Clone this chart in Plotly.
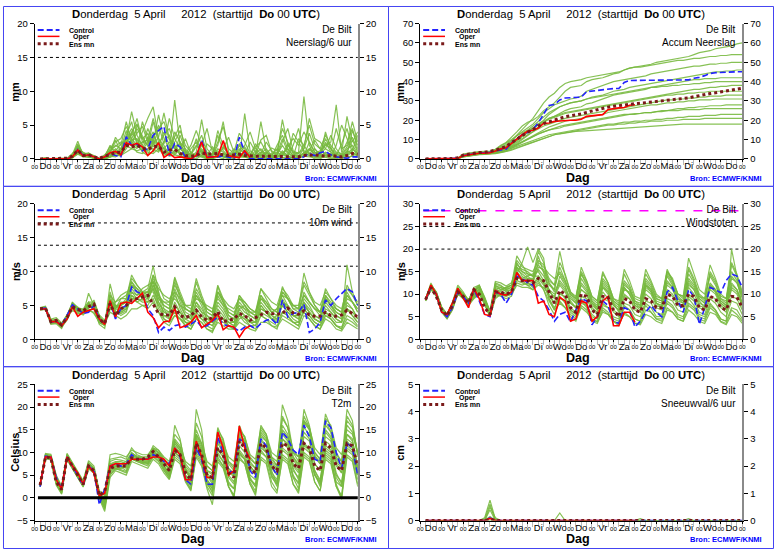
import plotly.graph_objects as go

# ---------------- time axis (hours after start, 6-hourly) ----------------
hours = list(range(6, 361, 6))
day_hours = list(range(0, 361, 24))
day_mid = list(range(12, 360, 24))
day_names = ["Do", "Vr", "Za", "Zo", "Ma", "Di", "Wo", "Do", "Vr", "Za", "Zo", "Ma", "Di", "Wo", "Do"]
day_ticktext = ["00"] * len(day_hours)

# ---------------- Neerslag / 6 uur (mm) ----------------
precip_control = [0,0,0,0, 0,0,0.3,1.4, 0.5,0.6,0.3,0, 0.3,0.8,0.5,0.3, 3.3,2.0,2.2,1.2, 1.5,3.5,4.2,4.8,
                  0.5,2.3,1.8,0.2, 0,0.3,2.8,0.3, 0.3,0.3,0.5,0.2, 0,3.2,1.0,0, 0,0,0,0, 0,0,0,0,
                  0,0.3,0.8,0.5, 0.9,1.1,0.6,0.3, 0.2,0.1,0.3,0.3]
precip_oper = [0,0,0,0, 0,0,0.3,1.3, 0.4,0.6,0.3,0, 0.3,0.9,1.1,0.6, 2.4,2.0,2.3,1.8, 0.5,1.2,2.4,0.2,
               0.8,0.2,0.3,0.1, 0,0.5,2.5,0.2, 0.3,0.4,2.7,0.5, 0.3,0.2,1.2,0.2]
precip_mean = [0,0,0,0.1, 0,0.1,0.4,1.3, 0.5,0.6,0.3,0.1, 0.4,0.7,0.9,1.0, 2.0,1.8,2.0,1.6, 1.4,1.8,1.9,1.0,
               1.3,1.4,0.8,0.5, 0.4,0.5,0.9,0.7, 0.7,0.8,0.6,0.5, 0.6,0.7,0.5,0.4, 0.4,0.4,0.4,0.4,
               0.4,0.3,0.4,0.3, 0.3,0.5,0.6,0.6, 0.5,0.4,0.5,0.4, 0.3,0.5,0.8,0.7]
precip_m1 = [0,0,0,0, 0,0,0.5,2.2, 0.8,0.4,0.2,0, 0.2,1.5,2.8,1.0, 3.5,5.5,2.0,1.2, 2.5,4.0,1.5,0.5, 1.0,8.7,2.0,0.3,
             0,0.5,1.2,0.2, 0,0.8,0.3,0, 0.5,1.5,0.8,0.2, 0,0,0.5,0.2, 0.3,1.2,0.5,0, 0,0.5,2.5,1.0, 0.5,0.2,0,0.3, 0.5,1.5,2.0,0.8]
precip_m2 = [0,0.2,0,0, 0,0,0.2,1.5, 1.0,0.5,0,0, 0.5,0.8,3.2,2.0, 5.5,2.5,1.8,4.0, 6.0,7.7,3.0,2.0, 0.5,1.0,3.5,1.2,
             0.2,0,0.5,0, 0,0.3,0,0.8, 0.5,0,6.7,1.2, 0.5,0.2,0,0, 0,0,0,0.3, 0.2,1.0,0.5,0, 0,0.5,0.2,0, 0.3,0,0.5,0.2]
precip_m3 = [0,0,0,0, 0,0.1,0.8,1.8, 0.3,0.8,0.5,0.1, 0,0.5,1.2,2.2, 2.8,7.0,3.5,2.0, 1.2,2.0,4.5,5.5, 2.8,2.0,0.5,0,
             0.3,1.0,5.8,1.5, 0.5,2.0,5.5,1.0, 0.2,0.5,0.3,0, 0.5,5.5,1.2,0.3, 2.0,3.5,1.5,0.5, 1.0,9.2,2.0,0.5, 1.0,3.0,1.5,0.3, 0,0.5,1.0,0.5]
precip_m4 = [0,0,0,0, 0,0,0.3,1.2, 0.6,0.3,0.2,0, 0,0.3,0.6,0.4, 1.5,3.0,4.5,3.0, 2.0,1.5,1.0,2.5, 3.5,1.5,0.8,0.5,
             1.5,2.5,0.8,0.2, 0.5,1.2,0.4,0.2, 0.3,2.0,1.0,0.2, 0.8,1.5,0.5,0.2, 0.5,5.8,2.0,1.0, 0.5,0.3,1.5,0.8, 1.2,2.0,2.5,8.0, 1.0,6.3,2.5,4.0]
precip_m5 = [0,0,0,0, 0,0,0.4,0.9, 0.4,0.7,0.3,0, 0.2,0.6,1.0,1.5, 4.2,2.2,1.5,5.5, 3.0,1.0,2.5,0.8, 0.4,0.6,1.5,0.8,
             0.5,3.0,1.0,0.4, 0.8,0.5,1.8,0.6, 0.4,0.3,0.6,2.5, 1.0,0.3,0.2,0.5, 1.5,0.8,0.4,2.0, 4.5,1.0,0.5,0.3, 0.5,0.8,0.3,2.0, 5.0,3.0,1.0,0.5]
precip_m6 = [0,0,0,0.1, 0,0,0.6,2.6, 0.5,0.6,0.4,0, 0.3,2.0,0.8,0.5, 2.0,1.5,5.0,3.5, 1.8,5.5,2.5,1.5, 0.8,4.0,2.5,0.6,
             0.2,0.5,0.3,0, 0.2,0.5,0.8,0.3, 0,0.6,0.5,0.2, 0.2,0.8,1.5,0.5, 0.3,0.5,2.2,0.8, 0.2,0.5,0.8,0.3, 0.3,0.5,0.8,0.4, 0.2,0.6,1.2,3.5]
precip_m7 = [0,0,0,0, 0,0,0.1,0.8, 0.4,0.4,0.2,0, 0,0.2,0.5,0.5, 1.0,1.5,1.2,1.5, 1.0,0.8,1.5,1.0, 1.2,0.6,0.4,0.3,
             0.3,0.4,0.6,0.3, 0.2,0.3,0.4,0.2, 0.1,0.3,0.2,0.1, 0.1,0.2,0.4,0.2, 0.1,0.2,0.3,0.1, 0.2,0.4,0.3,0.2, 0.2,0.3,0.5,0.2, 0.2,0.3,0.4,0.3]
precip_m8 = [0,0,0,0, 0,0,0.2,1.0, 0.8,0.3,0.1,0, 0.4,1.2,2.0,1.5, 3.0,4.5,2.5,1.0, 0.5,2.5,6.5,3.0, 1.5,3.2,5.0,1.0,
             0.6,1.8,3.5,0.8, 0.3,4.2,2.0,0.5, 1.0,3.8,2.5,0.8, 0.5,2.8,3.5,1.0, 0.5,2.5,4.5,1.2, 0.8,2.0,5.0,2.2, 1.5,3.5,2.0,1.0, 0.8,2.5,4.5,1.5]
precip_m9 = [0,0,0,0, 0,0,0.3,1.6, 0.7,0.9,0.4,0, 0.2,0.4,0.3,0.8, 2.5,3.5,6.0,2.5, 2.2,3.5,2.0,4.0, 2.0,0.8,1.5,3.0,
             0.8,0.3,2.0,4.5, 1.0,0.4,0.6,0.5, 1.5,0.8,0.4,0.3, 1.2,0.5,0.3,0.8, 1.0,0.5,1.8,3.0, 2.0,4.0,2.5,1.0, 0.8,1.5,3.5,1.5, 0.5,1.0,2.8,1.0]
precip_m10 = [0,0,0,0, 0,0,0.2,1.3, 0.5,0.5,0.3,0, 0.1,0.3,0.8,1.2, 2.0,2.8,3.0,2.0, 4.5,2.5,1.2,1.5, 2.5,1.5,0.8,0.4,
              0.2,0.8,1.2,0.6, 0.4,1.5,1.0,0.4, 0.6,1.0,0.4,0.3, 0.3,0.6,0.8,0.4, 0.2,0.8,1.5,0.5, 0.4,1.5,3.8,1.5, 0.6,2.2,1.5,0.8, 0.3,0.8,1.5,0.6]
precip_m11 = [0,0,0,0, 0,0,0.4,1.9, 0.6,0.5,0.2,0, 0.5,1.8,1.0,0.6, 2.2,3.8,2.8,1.5, 3.2,1.8,2.2,3.5, 4.5,2.0,1.0,0.4,
              0.3,0.6,1.5,0.5, 0.6,3.5,1.2,0.4, 0.2,0.8,1.8,0.5, 0.4,1.0,0.6,0.3, 0.8,3.0,1.0,0.4, 0.5,0.8,1.2,2.8, 1.5,0.6,0.4,0.8, 0.6,1.8,3.2,1.2]
precip_m12 = [0,0.1,0,0, 0,0,0.3,1.1, 0.9,0.7,0.3,0, 0.3,1.0,2.5,3.0, 4.8,3.0,2.0,2.5, 2.8,6.0,3.0,1.5, 1.2,2.5,4.2,2.0,
              1.0,0.5,0.8,2.2, 1.5,0.5,0.3,0.2, 0.5,2.2,1.5,0.5, 1.8,2.5,1.0,0.4, 0.3,1.0,0.5,3.8, 2.5,1.2,0.8,0.4, 0.3,4.0,1.5,0.5, 0.4,0.8,4.2,2.0]
precip_m13 = [0,0,0,0, 0,0,0.5,2.0, 0.7,0.6,0.3,0.1, 0.1,0.8,1.5,0.8, 1.8,2.5,3.8,4.8, 2.5,3.0,5.0,2.2, 6.0,3.0,1.5,0.8,
              2.0,4.2,2.0,1.0, 0.5,2.5,4.8,1.5, 0.8,1.2,2.0,4.0, 1.5,0.8,2.5,1.2, 0.6,2.0,0.8,0.3, 3.0,2.0,0.8,1.5, 0.6,2.5,1.0,0.5, 2.2,4.5,1.5,0.8]
precip_m14 = [0,0,0,0, 0,0,0.2,0.7, 0.3,0.2,0.1,0, 0,0.4,0.9,1.2, 3.0,2.0,1.0,0.8, 1.5,2.8,1.8,1.0, 0.6,1.2,2.5,1.5,
              0.5,0.3,0.4,0.2, 0.2,0.6,0.8,0.3, 0.3,0.5,0.4,0.2, 0.2,0.5,1.0,0.6, 0.3,0.6,0.4,0.2, 0.2,0.8,1.5,0.6, 0.4,1.0,0.6,0.3, 0.3,1.2,0.8,0.4]
precip_m15 = [0,0,0,0, 0,0,0.3,1.5, 0.5,0.8,0.4,0, 0.6,1.2,1.8,2.5, 2.5,4.0,5.2,3.0, 3.8,2.2,3.2,6.8, 3.0,1.8,2.2,1.0,
              0.8,2.0,1.0,0.5, 1.8,0.8,1.5,3.2, 1.0,0.5,0.8,0.6, 2.2,1.2,0.8,1.6, 1.2,4.5,2.5,1.0, 0.8,1.5,6.0,3.0, 2.5,1.5,1.0,4.5, 1.5,2.0,5.5,2.5]
precip_members = [precip_m1, precip_m2, precip_m3, precip_m4, precip_m5, precip_m6, precip_m7, precip_m8,
                  precip_m9, precip_m10, precip_m11, precip_m12, precip_m13, precip_m14, precip_m15]
precip_levels = [15]

# ---------------- Accum neerslag (mm) ----------------
accum_control = [0,0,0,0, 0,0,0.3,1.7, 2.2,2.8,3.1,3.1, 3.4,4.2,4.7,5.0, 8.3,10.3,12.5,13.7, 15.2,18.7,22.9,27.7,
                 28.2,30.5,31.5,31.7, 31.7,32.0,34.8,35.1, 35.4,35.7,36.2,36.4, 36.4,39.6,40.6,40.6, 40.6,40.6,40.6,40.6,
                 40.6,40.6,40.6,40.6, 40.6,40.9,41.7,42.2, 43.1,44.2,44.6,44.8, 45.0,45.1,45.1,45.1]
accum_oper = [0,0,0,0, 0,0,0.3,1.6, 2.0,2.6,2.9,2.9, 3.2,4.1,5.2,5.8, 8.2,10.2,12.5,14.3, 14.8,16.0,18.4,18.6,
              19.4,19.6,19.9,20.0, 20.0,20.5,22.0,22.2, 22.5,22.9,25.6,26.1, 26.4,26.6,27.8,28.0]
accum_mean = [0,0,0,0.1, 0.1,0.2,0.6,1.9, 2.4,3.0,3.3,3.4, 3.8,4.5,5.4,6.4, 8.4,10.2,12.2,13.8, 15.2,17.0,18.3,19.3,
              20.0,21.0,21.8,22.3, 22.7,23.2,24.1,24.8, 25.5,26.2,26.8,27.2, 27.6,28.0,28.3,28.6, 28.8,29.1,29.4,29.7,
              30.0,30.3,30.6,30.9, 31.2,31.6,32.2,32.8, 33.3,33.8,34.2,34.6, 35.0,35.5,36.2,36.6]
accum_m1 = [0,0,0,0, 0,0,0.3,2.0, 2.5,3.0,3.3,3.4, 3.6,4.5,6.0,7.5, 9.5,12.5,15.5,18.0, 21,25,29,32, 34,37,39,40,
            40.5,41,42,42.5, 43,43.5,44,44.5, 45,46,47,47.5, 48,48.5,49,50, 50.5,51,51.5,52, 52.5,53,54,55, 55.5,56,57,57.5, 58,58.5,59.5,60]
accum_m2 = [0,0,0,0, 0,0,0.5,2.5, 3.0,3.5,3.8,3.9, 4.0,5.0,7.0,8.5, 11,14,17,19, 20,22,25,27, 29,32,35,37,
            37.5,38,40,41, 41.5,42,43,44, 44.5,46,47,47.5, 47.5,48,48.5,49, 49.5,50,50.5,51, 51,51.5,52,52, 52.5,53,53,53.5, 53.5,54,54,54]
accum_m3 = [0,0,0,0, 0,0,0.4,1.8, 2.2,2.8,3.0,3.1, 3.3,4.0,5.2,6.5, 9,12,14,16, 18,21,24,26, 28,29,30,31,
            31.5,32.5,35,36, 37,38,39,40, 40.5,41,41.5,42, 42.5,43,44,44.5, 45,45.5,46,46.5, 47,47.5,48,48, 48.5,49,49,49.5, 49.5,50,50,50]
accum_m4 = [0,0,0,0, 0,0,0.3,1.5, 2.0,2.6,2.9,3.0, 3.2,3.8,4.8,5.8, 7.5,9.5,12,14, 16,18,20,23, 25,27,28,29,
            29.5,30,31,32, 32.5,33,34,35, 35.5,36,37,37.5, 38,38.5,39,39.5, 40,40.5,41,41.5, 42,42.5,43,43.5, 44,44.5,45,45, 45.5,45.5,46,46]
accum_m5 = [0,0,0,0, 0,0,0.2,1.2, 1.8,2.4,2.7,2.8, 3.0,3.5,4.2,5.0, 6.5,8.0,10,12, 14,16.5,19,21, 22,23.5,25,26,
            26.5,27,28.5,29, 30,31,32,33, 33.5,34,34.5,35, 35.5,36,37,37.5, 38,38.5,39,39.5, 40,40.5,41,41, 41.5,41.5,41.5,42, 42,42,42,42]
accum_m6 = [0,0,0,0, 0,0,0.4,1.7, 2.3,2.9,3.2,3.3, 3.5,4.3,5.5,6.8, 8.5,10.5,12.5,14.5, 16,18,19.5,21, 22,23,24,24.5,
            25,25.5,26,26.5, 27,27.5,28,28.5, 29,29.5,30,30.5, 31,31.5,32,32.5, 33,33.5,34,34.5, 35,35.5,36,36, 36.5,37,37,37.5, 37.5,38,38,38]
accum_m7 = [0,0,0,0, 0,0,0.3,1.4, 2.0,2.5,2.8,2.9, 3.1,3.6,4.3,5.2, 6.8,8.5,10.5,12.5, 14,15.5,17,18, 19,20,21,21.5,
            22,22.5,23,23.5, 24,24.5,25,25.5, 26,26.5,27,27.5, 28,28.5,29,29.5, 30,30.5,30.5,31, 31,31.5,31.5,32, 32,32.5,32.5,32.5, 33,33,33,33]
accum_m8 = [0,0,0,0, 0,0,0.2,1.0, 1.5,2.0,2.3,2.4, 2.6,3.0,3.6,4.2, 5.5,7.0,8.5,10, 11.5,13,14,15, 15.5,16,17,17.5,
            18,18.5,19,19.5, 20,20.5,21,21.5, 22,22.5,23,23, 23.5,24,24,24.5, 25,25,25.5,26, 26,26.5,26.5,27, 27,27.5,27.5,27.5, 28,28,28,28]
accum_m9 = [0,0,0,0, 0,0,0.3,1.3, 1.8,2.3,2.6,2.7, 2.8,3.2,3.8,4.5, 5.5,6.5,7.5,8.5, 9.5,10.5,11.5,12.5, 13,13.5,14,14.5,
            15,15.5,16,16.5, 17,17.5,18,18, 18.5,19,19,19.5, 19.5,20,20,20.5, 20.5,21,21,21.5, 21.5,22,22,22, 22.5,22.5,22.5,23, 23,23,23,23]
accum_m10 = [0,0,0,0, 0,0,0.2,1.1, 1.6,2.1,2.4,2.5, 2.7,3.0,3.4,4.0, 4.8,5.8,6.8,7.8, 8.8,9.8,10.8,11.8, 12.5,13,13.5,14,
             14.2,14.4,14.6,14.8, 15,15.2,15.4,15.6, 15.8,16,16.2,16.4, 16.6,16.8,17,17.2, 17.4,17.6,17.8,17.8, 18,18,18,18, 18,18,18,18, 18,18,18,18]
accum_m11 = [0,0,0,0, 0,0,0.3,1.6, 2.1,2.7,3.0,3.1, 3.3,4.0,5.0,6.0, 7.5,9.5,11.5,13.5, 15.5,17.5,19,20.5, 21.5,22.5,23.5,24,
             24.5,25,25.5,26, 26.5,27,27.5,28, 28.5,29,29.5,30, 30.5,31,31.5,32, 32.5,33,33,33.5, 33.5,34,34,34.5, 34.5,35,35,35, 35,35,35,35]
accum_m12 = [0,0,0,0, 0,0,0.2,1.3, 1.9,2.5,2.8,2.9, 3.0,3.4,4.0,4.8, 6.0,7.5,9.0,10.5, 12,13.5,15,16.5, 17.5,18.5,19.5,20,
             20.5,21,21.5,22, 22.5,23,24,24.5, 25,25.5,26,26.5, 27,27.5,28,28, 28.5,29,29,29.5, 29.5,30,30,30.5, 30.5,30.5,31,31, 31,31,31,31]
accum_m13 = [0,0,0,0, 0,0,0.3,1.5, 2.0,2.5,2.8,2.9, 3.1,3.5,4.2,5.0, 6.2,7.6,9.0,10.2, 11.5,12.8,14,15, 16,16.8,17.5,18,
             18.5,19,19.5,20, 20.5,21,21.5,22, 22.5,23,23,23.5, 23.5,24,24,24.5, 24.5,25,25,25, 25.5,25.5,25.5,25.5, 26,26,26,26, 26,26,26,26]
accum_m14 = [0,0,0,0, 0,0,0.4,2.2, 2.7,3.2,3.5,3.6, 3.8,4.8,6.5,8.0, 10,12,13.5,15, 17,19.5,22,24, 25.5,27,28,29,
             29.5,30,31,31.5, 32,32.5,33,33.5, 34,34.5,35,35.5, 36,36.5,37,37, 37.5,37.5,38,38, 38.5,38.5,39,39, 39.5,39.5,40,40, 40,40,40,40]
accum_m15 = [0,0,0,0, 0,0,0.2,1.0, 1.4,1.9,2.2,2.3, 2.4,2.7,3.2,3.8, 4.5,5.5,6.5,7.5, 8.5,9.5,10.5,11.5, 12.5,13,13.5,14,
             14.5,15,15.5,16, 16.5,17,17.5,17.5, 18,18,18.5,18.5, 19,19,19.5,19.5, 19.5,20,20,20, 20.5,20.5,20.5,20.5, 21,21,21,21, 21,21,21,21]
accum_members = [accum_m1, accum_m2, accum_m3, accum_m4, accum_m5, accum_m6, accum_m7, accum_m8,
                 accum_m9, accum_m10, accum_m11, accum_m12, accum_m13, accum_m14, accum_m15]

# ---------------- 10m wind (m/s) ----------------
wind_control = [4.5,4.6,2.5,2.7, 2.0,3.5,5.1,4.5, 3.8,4.0,5.0,3.0, 2.2,5.5,3.0,4.5, 5.0,7.7,7.0,6.7, 4.5,3.5,1.0,1.8,
                1.3,2.0,2.2,1.8, 2.2,2.8,1.8,2.0, 2.6,3.3,2.2,2.0, 1.7,1.2,1.8,2.0, 1.6,2.3,2.8,3.0, 2.2,5.8,3.3,3.8,
                4.0,5.2,1.0,1.5, 2.5,5.8,5.0,6.0, 6.8,7.5,7.0,5.0]
wind_oper = [4.4,4.5,2.6,2.6, 2.0,3.0,4.8,3.4, 4.0,4.3,4.5,3.0, 2.2,5.7,3.3,5.3, 5.5,5.3,6.0,6.8, 4.0,3.2,1.7,2.6,
             2.7,4.6,1.7,2.0, 2.5,3.5,1.7,2.2, 2.8,3.8,1.4,2.0, 1.8,0.3,1.5,2.0]
wind_mean = [4.5,4.6,2.6,2.8, 2.1,3.2,4.8,4.4, 4.2,4.8,5.2,3.0, 2.3,5.3,3.5,4.5, 5.0,5.8,6.0,6.3, 6.5,5.2,3.8,3.6,
             3.6,4.8,3.5,3.2, 3.5,4.3,3.3,2.8, 3.2,4.1,2.6,2.8, 3.0,3.8,3.5,2.8, 3.2,3.5,4.0,3.8, 3.7,3.8,4.6,3.9,
             3.7,4.2,3.6,3.4, 3.4,4.0,3.5,3.4, 3.6,4.3,3.8,3.3]
wind_m1 = [4.6,4.8,2.8,2.5, 2.2,3.5,5.0,4.2, 4.0,4.8,4.5,3.0, 2.5,5.0,4.5,5.5, 5.5,8.0,7.0,6.5, 6.0,9.5,6.5,5.0, 4.5,8.5,6.0,4.0,
           3.5,6.5,5.0,3.0, 3.0,5.5,4.5,3.0, 2.5,5.0,4.0,3.5, 3.0,6.0,5.5,4.0, 4.5,6.5,5.0,4.0, 3.5,7.0,5.5,4.5, 3.5,5.5,4.5,3.5, 3.0,6.0,5.5,4.0]
wind_m2 = [4.4,4.5,2.4,2.8, 2.0,3.0,4.5,3.8, 3.8,6.8,5.0,2.5, 2.0,8.2,5.0,5.0, 6.0,9.5,8.0,7.0, 7.5,10.8,7.0,4.5, 4.0,7.5,5.5,3.5,
           3.0,5.5,4.0,2.5, 2.5,4.5,3.5,2.0, 1.8,4.0,3.5,2.5, 2.5,5.0,4.0,3.0, 3.5,5.5,4.5,3.5, 3.0,5.0,4.0,3.0, 2.5,4.5,4.0,3.0, 2.5,11.0,7.0,5.0]
wind_m3 = [4.5,4.6,2.2,2.3, 1.6,3.2,5.5,4.5, 4.2,5.5,4.5,2.2, 1.6,6.5,4.0,4.0, 4.5,7.0,6.0,5.5, 5.5,8.0,6.5,5.5, 5.0,9.2,7.0,5.0,
           5.0,9.0,6.5,4.5, 4.0,8.0,6.0,4.0, 3.5,6.5,5.0,4.0, 3.5,7.5,6.0,4.5, 4.0,7.8,6.0,5.0, 4.5,9.8,7.0,5.0, 4.0,7.5,6.0,4.5, 4.0,8.0,6.5,5.0]
wind_m4 = [4.3,4.4,3.0,3.2, 2.4,3.6,4.2,4.0, 3.6,4.5,3.8,2.6, 2.3,4.0,3.5,3.0, 3.5,4.5,4.5,5.0, 4.5,5.5,4.0,2.5, 2.0,3.5,3.0,2.0,
           1.5,3.0,2.5,1.5, 1.2,2.5,2.0,1.5, 1.5,2.5,2.0,1.5, 1.2,2.5,2.5,2.0, 1.8,3.0,2.5,2.0, 1.5,3.5,3.0,2.0, 1.5,3.0,2.5,1.5, 1.2,2.5,2.0,1.5]
wind_m5 = [4.7,4.9,2.6,2.9, 2.1,3.3,4.8,4.3, 4.4,5.0,5.2,3.2, 2.6,5.5,5.0,4.5, 5.0,7.5,6.5,7.0, 6.5,7.5,5.5,4.0, 3.5,5.0,4.0,3.0,
           3.5,7.0,5.5,3.5, 2.5,7.8,5.5,3.5, 3.0,5.5,4.5,3.0, 2.5,4.0,3.5,3.0, 2.8,5.5,5.0,3.5, 3.5,5.5,4.0,3.0, 2.5,6.5,5.0,4.0, 3.5,4.5,3.5,2.5]
wind_m6 = [4.5,4.7,2.9,2.6, 2.3,3.4,5.2,4.6, 4.5,5.5,5.5,3.6, 2.8,5.0,4.5,6.0, 6.5,8.5,7.5,6.0, 6.5,9.0,7.0,3.0, 2.5,4.5,3.5,2.5,
           2.0,4.0,3.0,2.0, 1.5,3.5,3.0,2.5, 2.0,3.5,2.5,2.0, 2.0,4.5,4.0,3.0, 2.5,4.0,3.5,2.5, 2.0,4.5,3.5,2.5, 2.0,4.0,3.0,2.0, 1.8,3.5,3.0,2.0]
wind_m7 = [4.6,4.5,2.5,2.7, 1.8,2.8,4.6,4.1, 3.9,4.2,4.0,2.4, 2.1,4.5,5.5,6.5, 7.0,7.0,6.5,7.5, 8.0,8.5,6.0,5.5, 5.5,6.0,5.0,4.5,
           4.0,6.5,5.5,5.0, 4.5,6.0,5.0,4.5, 4.0,5.0,4.5,4.0, 4.0,6.0,5.0,4.0, 4.5,6.5,6.0,5.0, 4.5,6.5,5.5,4.5, 4.0,6.0,5.0,4.5, 4.0,7.0,5.5,4.5]
wind_m8 = [4.4,4.6,2.7,3.0, 2.2,3.6,5.4,4.7, 4.1,4.6,5.8,3.4, 2.4,5.8,5.0,4.0, 4.5,6.0,6.0,6.5, 7.0,7.0,4.5,3.5, 3.5,7.0,4.5,3.0,
           2.5,5.0,4.0,3.5, 3.0,5.0,4.0,2.5, 2.0,4.5,5.0,3.5, 3.0,5.5,4.5,3.5, 3.0,5.0,4.0,3.0, 2.5,6.0,5.0,3.5, 3.0,6.0,5.0,3.5, 3.0,5.0,4.5,3.0]
wind_m9 = [4.5,4.4,2.3,2.4, 1.9,3.1,4.9,4.4, 4.3,5.2,4.8,2.8, 2.2,6.0,4.2,3.5, 4.0,6.5,5.5,5.0, 5.0,6.5,5.0,4.5, 3.0,4.0,3.0,2.0,
           1.5,3.0,2.5,1.5, 1.0,3.0,2.5,2.0, 1.5,3.0,3.5,2.5, 2.0,3.5,3.0,2.5, 2.0,3.5,3.0,2.5, 2.5,4.0,3.0,2.0, 1.5,3.5,3.0,2.0, 1.5,4.5,3.5,2.5]
wind_m10 = [4.5,4.7,2.5,2.6, 2.0,3.0,5.0,4.5, 4.0,5.0,4.8,3.0, 2.3,5.5,4.8,5.0, 5.5,8.5,7.0,6.5, 6.5,8.0,5.5,4.0, 4.0,6.5,5.0,3.5,
            3.0,5.5,4.5,3.0, 2.5,6.5,5.0,3.0, 2.5,4.5,3.5,2.5, 2.5,5.0,4.0,3.0, 3.0,6.0,4.5,3.5, 3.0,5.5,4.5,3.5, 3.0,5.0,4.0,3.0, 2.5,5.5,4.5,3.0]
wind_m11 = [4.5,4.6,2.4,2.5, 1.8,3.2,5.2,4.4, 4.0,5.3,4.6,2.9, 2.2,7.0,4.5,4.2, 4.8,8.0,7.5,6.8, 7.0,8.5,7.5,6.5, 6.0,7.0,6.0,5.0,
            4.5,6.0,5.5,4.5, 4.0,7.0,6.0,5.0, 4.5,6.0,5.5,4.5, 4.0,7.5,6.5,5.5, 5.0,7.5,6.5,5.0, 5.0,8.5,7.0,5.5, 5.0,7.0,6.0,5.0, 4.5,7.5,6.5,5.5]
wind_m12 = [4.4,4.5,2.8,2.9, 2.2,3.4,4.7,4.2, 3.9,4.7,4.7,3.1, 2.4,5.2,4.0,3.8, 4.2,6.5,6.0,5.8, 6.0,7.5,5.0,3.5, 3.0,5.5,4.0,2.5,
            2.0,4.5,3.5,2.5, 2.0,4.0,3.0,2.0, 1.5,3.5,3.0,2.0, 1.5,3.5,3.0,2.0, 1.5,4.0,3.5,2.5, 2.0,4.5,3.5,2.5, 2.0,3.5,3.0,2.0, 1.5,3.0,2.5,1.8]
wind_m13 = [4.6,4.7,2.6,2.7, 2.0,3.3,5.3,4.6, 4.2,5.0,5.0,3.0, 2.4,6.5,5.5,6.0, 6.0,9.0,8.0,7.0, 7.0,9.5,8.0,6.0, 5.5,8.0,6.5,4.5,
            4.0,7.5,6.0,4.0, 3.5,7.0,5.5,4.0, 3.5,6.0,5.0,4.0, 3.5,6.5,5.5,4.5, 4.0,7.0,6.0,4.5, 4.0,6.5,5.5,4.5, 4.0,6.5,5.5,4.5, 4.0,6.5,5.5,4.5]
wind_m14 = [4.5,4.5,2.5,2.8, 2.1,3.1,4.9,4.3, 4.0,4.9,4.9,3.1, 2.2,4.5,4.0,4.5, 5.0,6.0,5.5,6.0, 5.5,6.0,4.0,3.0, 2.5,3.5,3.0,2.5,
            2.5,3.5,3.0,2.5, 2.0,3.5,3.0,2.5, 2.5,3.5,3.0,2.5, 2.5,4.5,4.0,3.5, 3.0,5.0,4.0,3.5, 3.5,5.0,4.0,3.0, 2.5,4.0,3.5,2.5, 2.5,4.5,4.0,3.0]
wind_m15 = [4.5,4.6,2.7,2.6, 2.0,3.4,5.0,4.5, 4.1,5.1,5.3,3.3, 2.5,5.8,4.8,5.0, 5.5,7.8,7.0,6.0, 6.5,8.5,6.0,5.0, 4.5,9.0,6.5,4.5,
            4.0,8.5,6.0,4.0, 3.5,7.0,5.5,3.5, 3.0,6.5,5.5,4.5, 4.0,6.5,5.0,4.0, 3.5,7.0,6.0,4.5, 4.5,8.0,6.5,5.0, 4.0,6.0,5.0,4.0, 3.5,6.5,5.5,4.0]
wind_members = [wind_m1, wind_m2, wind_m3, wind_m4, wind_m5, wind_m6, wind_m7, wind_m8,
                wind_m9, wind_m10, wind_m11, wind_m12, wind_m13, wind_m14, wind_m15]
wind_levels = [10.8, 13.9, 17.2]

# ---------------- Windstoten (m/s) ----------------
gust_control = [8.8,11.5,10.0,6.0, 5.0,7.0,10.5,9.5, 8.0,11.0,8.5,5.5, 5.0,10.5,10.0,8.0, 10.0,14.0,13.5,12.5, 12.0,9.5,8.5,6.5,
                4.0,5.5,6.0,3.8, 6.5,9.0,8.5,3.2, 5.0,8.5,7.5,4.0, 3.5,7.0,6.5,2.7, 4.0,6.0,7.5,6.0, 5.0,10.5,11.5,8.5,
                6.0,11.0,9.5,3.3, 7.0,11.5,11.0,10.3, 13.0,14.5,14.0,11.5]
gust_oper = [8.8,12.0,10.0,6.0, 5.5,8.0,11.3,9.0, 7.0,11.3,9.0,5.5, 5.2,10.8,10.0,9.8, 10.5,14.8,13.0,13.0, 13.0,8.0,8.5,5.5,
             5.0,9.3,8.5,4.0, 4.5,8.5,8.0,4.0, 5.0,8.5,9.5,3.0, 3.0,6.0,6.0,3.8]
gust_mean = [8.8,11.5,9.5,6.5, 5.2,7.5,10.5,9.5, 8.0,11.0,10.0,7.0, 5.5,10.5,10.5,10.0, 10.5,13.5,13.0,13.0, 12.5,13.5,13.0,10.5,
             8.0,10.8,10.0,7.0, 6.0,10.0,9.5,6.5, 5.5,9.5,9.3,6.5, 5.0,9.0,8.5,6.5, 6.0,9.0,8.5,7.0, 7.0,10.0,9.5,7.5,
             7.5,10.0,9.5,7.0, 6.5,9.5,9.0,7.0, 6.5,9.5,9.3,7.0]
gust_m1 = [9.0,12.0,10.5,7.0, 5.5,8.0,11.5,10.0, 8.5,11.0,11.5,9.0, 6.0,12.0,11.0,11.5, 12.0,17.0,15.0,14.0, 13.0,18.5,15.0,11.0,
           9.0,14.0,12.0,8.0, 7.0,12.5,11.0,8.5, 7.0,11.5,10.0,7.5, 6.5,11.0,10.5,8.0, 7.5,12.0,11.0,8.5, 8.0,13.0,11.5,9.0,
           8.5,13.5,12.0,9.0, 8.0,12.5,11.0,8.5, 7.5,13.5,12.5,9.5]
gust_m2 = [8.6,11.0,9.5,6.0, 4.5,6.5,10.0,9.0, 7.5,9.0,10.0,8.0, 5.0,9.0,10.0,10.0, 10.5,14.5,17.0,20.5, 17.0,20.0,18.0,9.0,
           6.5,10.5,9.0,6.5, 5.5,9.0,7.5,5.0, 4.5,8.0,7.0,4.5, 4.0,7.0,6.5,4.5, 4.0,7.5,6.0,4.5, 4.5,8.0,7.0,5.0,
           4.5,9.0,7.5,5.5, 5.0,8.0,6.5,4.5, 4.0,20.0,14.0,7.0]
gust_m3 = [8.9,12.5,10.0,6.5, 5.0,7.0,11.0,9.5, 8.0,10.5,11.0,8.5, 5.5,11.0,11.5,10.5, 11.0,16.0,14.0,13.0, 12.5,16.0,15.5,13.0,
           12.0,19.5,14.0,10.5, 9.0,16.0,13.0,9.5, 8.5,15.0,12.5,9.0, 8.0,14.5,12.0,9.0, 8.5,15.5,13.0,10.0, 9.0,15.5,13.0,10.0,
           9.5,18.0,14.5,11.0, 10.0,16.5,13.5,10.0, 9.0,15.0,13.0,10.0]
gust_m4 = [8.7,11.3,10.2,6.8, 5.3,7.5,10.2,9.2, 7.8,9.5,10.5,8.2, 5.8,10.0,9.5,9.0, 9.5,12.5,12.0,12.5, 11.5,13.0,11.0,7.5,
           5.5,8.5,7.0,5.0, 4.0,7.5,6.5,4.0, 3.5,6.5,5.5,4.0, 3.0,6.0,5.0,3.5, 3.5,6.5,6.0,4.5, 4.0,7.0,6.0,4.5,
           4.0,7.5,6.5,4.5, 4.0,7.0,6.0,4.0, 3.5,6.5,5.5,4.0]
gust_m5 = [9.1,11.8,9.8,6.2, 4.8,6.8,10.8,9.8, 8.2,10.0,10.8,7.8, 5.2,10.5,10.8,11.5, 12.0,15.0,13.5,14.0, 14.5,15.0,13.0,11.0,
           10.0,12.5,11.0,8.5, 7.0,13.5,11.5,8.0, 6.5,12.5,11.0,8.0, 6.0,11.5,10.0,7.5, 6.5,11.0,10.0,7.5, 7.0,12.5,11.5,8.0,
           7.5,12.0,11.0,8.5, 7.0,11.5,10.5,8.0, 7.0,11.0,10.0,7.5]
gust_m6 = [8.8,11.5,10.0,6.5, 5.0,7.2,11.0,9.6, 8.0,9.8,11.2,8.8, 6.2,10.8,10.2,10.0, 10.0,13.0,12.5,12.0, 12.0,13.5,12.0,9.5,
           8.0,10.0,9.5,7.0, 6.0,9.5,9.0,6.5, 5.5,9.0,8.5,6.0, 5.0,9.5,9.0,7.0, 6.0,10.0,9.0,7.0, 6.5,10.5,9.5,7.5,
           7.0,10.0,9.0,7.0, 6.5,9.5,9.0,7.0, 6.0,9.5,9.0,6.5]
gust_m7 = [9.0,12.2,10.4,7.2, 5.6,8.2,12.0,10.5, 8.6,11.5,12.0,9.0, 5.6,12.5,12.0,11.0, 11.5,15.5,14.5,13.5, 13.0,17.0,16.0,14.5,
           13.5,14.5,12.5,10.0, 8.5,11.0,10.0,7.0, 6.0,10.5,9.0,6.5, 5.5,10.0,9.0,6.5, 6.0,11.5,10.5,8.0, 7.0,11.0,10.0,8.0,
           7.5,11.5,10.0,7.5, 7.0,11.0,10.0,7.5, 6.5,12.0,11.0,8.0]
gust_m8 = [8.5,11.2,9.7,6.3, 4.7,6.6,10.5,9.3, 7.6,9.3,10.3,7.6, 5.0,9.5,9.8,9.5, 10.0,14.0,13.0,12.0, 11.0,12.0,11.5,10.0,
           8.0,9.0,8.5,6.5, 5.5,8.0,7.5,5.5, 4.5,7.5,7.0,5.0, 4.5,8.0,7.5,5.5, 5.0,8.5,8.0,6.0, 5.5,9.0,8.5,6.5,
           6.0,9.5,8.5,6.0, 5.5,9.0,8.0,6.0, 5.0,8.5,8.0,5.5]
gust_m9 = [8.8,11.6,10.1,6.6, 5.1,7.4,11.2,9.8, 8.3,10.2,11.0,8.4, 5.4,11.5,11.0,10.8, 11.0,16.5,15.5,15.0, 14.0,14.0,12.5,10.5,
           9.5,12.0,10.5,8.0, 7.0,11.0,10.0,7.5, 6.5,11.5,10.5,8.0, 7.0,12.5,11.0,8.5, 7.5,13.0,11.5,9.0, 8.5,14.0,12.0,9.5,
           8.5,13.0,11.5,9.0, 8.0,12.0,11.0,8.5, 7.5,12.5,11.0,8.0]
gust_m10 = [8.9,11.9,10.3,6.9, 5.4,7.8,11.4,10.2, 8.8,10.8,11.8,9.2, 6.0,11.2,10.5,10.2, 10.5,14.0,13.0,13.5, 13.5,15.5,14.0,12.0,
            11.0,16.0,13.0,9.5, 8.0,14.5,12.5,8.5, 7.5,13.5,12.0,8.5, 7.5,13.0,11.5,8.0, 7.0,12.5,11.0,8.0, 7.5,14.5,12.5,9.0,
            8.0,15.5,13.0,9.5, 8.5,14.5,12.5,9.0, 8.0,16.5,14.0,10.0]
gust_m11 = [8.8,11.7,10.2,6.7, 5.2,7.6,11.0,10.0, 8.4,10.6,11.5,9.0, 5.8,11.8,11.5,11.0, 11.5,17.5,16.0,15.5, 15.0,17.5,16.5,13.5,
            12.0,15.0,13.0,10.0, 9.0,14.5,12.0,9.0, 8.0,13.0,11.5,8.5, 7.5,12.0,11.0,8.5, 8.0,13.5,12.0,9.0, 8.5,15.0,13.0,10.0,
            9.0,14.5,12.5,9.5, 9.0,14.0,12.0,9.0, 8.5,14.0,12.5,9.0]
gust_m12 = [8.7,11.1,9.6,6.1, 4.6,6.7,10.3,9.1, 7.7,9.2,10.1,7.9, 5.1,9.8,10.0,9.8, 10.2,13.5,13.5,12.5, 12.0,14.0,12.5,9.0,
            7.0,9.5,8.0,6.0, 5.0,8.5,7.0,4.5, 4.0,7.0,6.0,4.0, 3.5,7.5,6.5,4.5, 4.0,8.0,7.0,5.0, 5.0,8.5,7.5,5.5,
            5.0,8.0,7.0,5.0, 4.5,7.5,6.5,4.5, 4.0,7.0,6.5,4.5]
gust_m13 = [8.9,11.8,10.1,6.8, 5.3,7.7,11.1,9.9, 8.5,10.4,11.6,8.9, 6.1,12.2,11.8,11.2, 12.0,18.5,16.5,14.5, 14.0,19.5,17.0,12.5,
            11.0,17.0,14.5,10.5, 9.5,15.0,13.0,9.5, 8.5,14.5,12.5,9.0, 8.5,15.5,13.0,9.5, 9.0,14.5,12.5,9.5, 9.0,15.0,13.5,10.0,
            9.5,16.0,13.5,10.0, 9.0,15.0,13.0,9.5, 9.0,17.0,14.5,10.5]
gust_m14 = [8.6,11.4,9.9,6.4, 4.9,7.0,10.6,9.4, 7.9,9.6,10.6,8.1, 5.3,10.2,10.0,9.6, 10.0,12.0,11.5,11.5, 11.0,12.5,11.0,8.5,
            6.5,8.0,7.0,5.5, 4.5,7.0,6.0,4.5, 3.8,6.0,5.5,4.0, 3.5,5.5,5.0,3.5, 3.2,5.5,5.0,4.0, 3.5,6.5,6.0,4.5,
            4.0,6.5,5.5,4.0, 3.5,6.0,5.5,3.8, 3.2,5.5,5.0,3.5]
gust_m15 = [9.0,12.1,10.4,7.0, 5.5,8.0,11.3,10.1, 8.7,11.0,12.0,9.4, 6.3,12.8,12.5,11.8, 12.5,16.0,15.0,14.5, 14.0,16.5,15.0,12.5,
            10.5,13.0,11.5,9.0, 8.0,12.0,10.5,8.0, 7.0,12.0,10.5,7.5, 6.5,11.5,10.0,7.5, 7.0,12.0,10.5,8.0, 7.5,12.0,11.0,8.5,
            8.0,12.5,11.0,8.0, 7.5,12.0,10.5,8.0, 7.0,11.5,10.5,8.0]
gust_members = [gust_m1, gust_m2, gust_m3, gust_m4, gust_m5, gust_m6, gust_m7, gust_m8,
                gust_m9, gust_m10, gust_m11, gust_m12, gust_m13, gust_m14, gust_m15]
gust_levels = [20, 25]
gust_alarm = [28.5]

# ---------------- T2m (Celsius) ----------------
t2m_control = [2.5,9.2,9.0,4.5, 2.0,9.0,7.0,5.0, 2.8,7.0,6.0,-1.5, 2.0,7.0,7.5,7.0, 7.5,9.5,8.5,8.5, 8.5,9.5,9.0,8.0,
               7.5,11.0,9.0,4.0, 3.0,11.0,8.5,3.0, 3.0,13.5,10.0,6.0, 5.5,13.0,12.0,6.0, 4.5,13.0,11.5,7.0, 5.0,14.5,13.0,10.5,
               9.5,16.0,13.5,8.5, 8.0,17.0,15.5,10.0, 6.5,12.0,11.0,5.0]
t2m_oper = [3.0,9.0,9.0,4.0, 2.0,9.0,7.0,5.5, 3.0,7.0,5.5,0.5, 1.0,7.0,7.5,7.5, 7.5,8.5,8.5,8.5, 8.5,9.0,9.0,8.5,
            7.0,11.0,9.5,4.0, 4.0,12.5,9.0,4.5, 4.5,14.5,11.0,5.0, 6.0,15.8,11.0,8.5]
t2m_mean = [2.8,9.0,8.8,3.5, 1.8,9.0,7.0,5.0, 3.0,7.0,6.0,0.5, 1.5,6.5,7.0,7.0, 7.0,8.8,8.5,8.5, 9.0,10.2,9.0,7.5,
            6.0,10.5,9.5,5.5, 4.0,12.0,9.5,5.0, 4.5,11.0,9.5,5.5, 4.5,12.5,11.0,6.5, 5.5,12.0,11.0,7.0, 6.0,12.0,11.5,7.5,
            6.5,12.0,11.0,7.0, 6.0,12.0,11.0,7.0, 6.0,12.0,11.5,7.0]
t2m_m1 = [2.8,9.5,9.3,4.5, 2.0,9.5,7.5,5.5, 3.5,7.5,6.5,1.0, -1.0,7.0,7.5,7.5, 8.0,10.0,9.0,8.5, 8.5,10.0,9.5,7.5,
          6.5,13.0,11.5,6.0, 4.5,15.0,12.0,5.5, 4.0,12.0,10.0,6.0, 5.0,13.5,12.0,7.0, 5.5,14.0,12.5,7.0, 6.0,16.0,14.0,9.0,
          7.5,16.5,15.0,9.0, 8.0,15.0,13.5,8.5, 7.0,14.0,13.0,6.5]
t2m_m2 = [2.5,8.8,8.5,3.0, 1.0,8.5,6.5,4.5, 2.5,6.5,5.5,0.0, -2.5,5.0,6.5,6.0, 5.5,8.5,8.0,7.5, 7.0,9.0,8.0,6.0,
          4.5,9.5,8.5,4.0, 2.0,10.0,8.0,3.0, 1.5,9.0,7.0,3.0, 2.0,10.0,8.5,4.0, 3.0,10.5,9.0,5.0, 3.5,9.5,8.5,4.5,
          3.5,10.0,9.0,5.0, 3.5,9.5,8.5,3.5, 2.5,10.5,9.5,4.0]
t2m_m3 = [3.0,9.3,9.0,4.0, 2.5,9.2,7.2,5.2, 3.2,7.2,6.2,0.8, -0.5,7.5,8.0,8.0, 7.5,9.5,9.0,8.8, 8.5,11.0,10.0,8.0,
          6.0,16.0,13.0,6.5, 4.0,19.5,15.0,5.0, 3.0,14.0,11.5,6.5, 5.5,16.0,13.0,8.0, 6.5,16.0,14.0,9.0, 7.0,20.5,17.0,10.0,
          8.0,19.5,16.0,10.0, 8.5,18.5,15.5,10.0, 8.0,19.5,17.0,9.0]
t2m_m4 = [2.6,9.0,8.7,3.5, 1.5,8.8,6.8,4.8, 2.8,6.8,5.8,0.3, -1.8,6.0,6.5,6.5, 7.0,9.0,8.5,8.0, 7.5,9.5,9.0,7.0,
          5.5,10.5,9.5,5.0, 3.5,12.0,10.0,4.0, 2.5,10.5,9.0,4.5, 3.0,11.5,10.0,5.0, 4.0,11.0,10.0,5.5, 4.0,12.0,11.0,6.0,
          4.5,11.5,10.5,6.0, 4.0,11.0,10.0,5.0, 3.5,11.5,10.5,5.5]
t2m_m5 = [2.9,9.6,9.4,4.8, 2.2,9.6,7.6,5.6, 3.6,7.8,6.6,1.2, 0.5,8.5,8.8,9.0, 8.5,11.0,9.5,9.0, 9.0,11.5,10.5,8.5,
          7.0,12.0,10.5,7.0, 5.5,13.5,11.0,7.0, 6.0,15.5,12.5,8.0, 6.5,14.0,12.5,8.5, 7.5,13.5,12.5,8.5, 7.0,14.5,13.0,8.5,
          6.5,15.5,14.0,9.0, 7.5,13.5,12.5,8.0, 6.5,16.0,14.5,9.5]
t2m_m6 = [2.7,9.1,8.9,3.8, 1.8,9.1,7.1,5.1, 3.1,7.1,6.1,0.6, -1.2,6.8,7.2,7.0, 6.5,8.5,8.5,8.0, 8.0,10.5,9.0,7.0,
          5.0,11.0,10.0,5.0, 3.0,11.5,9.0,3.5, 1.0,10.0,8.0,2.5, 0.5,9.5,8.5,3.5, 1.5,11.5,10.0,5.0, 2.5,11.0,10.0,4.5,
          2.0,12.0,10.5,5.5, 2.5,10.0,9.0,3.0, 0.0,12.5,11.0,5.0]
t2m_m7 = [2.8,9.4,9.1,4.2, 2.1,9.3,7.3,5.3, 3.3,7.3,6.3,0.9, -0.8,7.2,7.6,7.4, 7.2,9.2,8.8,8.4, 8.8,10.2,9.5,7.5,
          6.2,11.5,10.0,6.0, 4.8,12.5,10.5,6.0, 5.0,13.0,11.0,6.5, 5.0,12.5,11.5,7.0, 5.5,12.5,11.5,7.5, 6.0,13.0,12.0,7.0,
          5.5,13.5,12.5,7.5, 6.0,12.5,11.5,7.0, 5.5,12.0,11.5,6.5]
t2m_m8 = [2.4,8.6,8.4,2.8, 0.8,8.4,6.4,4.4, 2.4,6.4,5.4,-0.2, -3.0,4.5,6.0,5.5, 5.0,8.0,7.5,7.0, 6.5,8.5,7.5,5.5,
          4.0,8.5,7.5,3.5, 1.5,9.0,7.0,2.0, -1.5,8.0,6.5,2.5, 0.0,9.0,7.5,3.0, 0.5,8.5,7.5,2.5, 1.0,9.0,8.0,3.0,
          1.5,9.5,8.5,3.5, 1.5,9.0,8.0,2.5, -0.3,9.0,8.0,2.5]
t2m_m9 = [3.1,9.8,9.6,5.0, 2.6,9.8,7.8,5.8, 3.8,8.2,7.0,1.5, 1.0,9.5,9.8,9.5, 9.0,10.5,10.0,9.5, 9.5,11.0,10.5,9.0,
          8.0,12.5,11.0,8.0, 7.0,14.0,12.0,8.0, 7.0,13.0,12.0,9.0, 8.0,15.0,13.5,9.5, 8.5,15.5,14.0,10.0, 9.0,15.0,13.5,10.0,
          9.0,17.0,15.5,11.0, 9.5,17.5,16.0,11.0, 9.5,15.0,14.0,10.0]
t2m_m10 = [2.6,8.9,8.6,3.3, 1.3,8.7,6.7,4.7, 2.7,6.7,5.7,0.2, -2.0,5.5,7.0,6.8, 6.0,8.8,8.2,7.8, 7.8,9.8,8.8,6.5,
           5.0,10.0,9.0,4.5, 2.5,11.0,9.5,4.0, 2.0,11.0,9.5,5.0, 3.5,10.5,9.0,4.5, 2.5,12.0,10.5,6.0, 3.0,13.0,11.5,6.5,
           4.0,12.0,11.0,6.0, 3.5,11.5,10.5,5.5, 3.0,13.0,12.0,6.0]
t2m_m11 = [2.7,9.2,9.0,4.0, 1.9,9.2,7.2,5.0, 3.0,7.0,6.0,0.7, -1.0,6.5,7.0,7.0, 7.0,9.0,8.5,8.2, 8.2,10.0,9.0,7.0,
           5.5,12.0,10.5,6.0, 4.0,13.0,10.5,5.0, 3.5,12.5,10.5,6.0, 4.5,13.5,11.5,6.5, 5.0,13.0,11.5,6.5, 5.0,14.0,12.5,7.5,
           6.0,14.5,13.0,7.5, 6.0,14.5,13.0,7.5, 5.5,14.0,12.5,7.0]
t2m_m12 = [2.9,9.4,9.2,4.6, 2.3,9.4,7.4,5.4, 3.4,7.6,6.4,1.1, 0.0,8.0,8.5,8.3, 8.0,9.8,9.2,9.0, 9.0,10.8,10.0,8.5,
           7.5,14.0,12.5,7.5, 6.0,16.5,13.5,7.0, 6.0,15.0,13.0,8.0, 7.0,15.0,13.5,9.0, 7.5,15.0,13.5,9.0, 8.0,17.5,15.5,10.5,
           9.0,17.0,15.0,10.0, 8.5,16.0,14.5,9.5, 8.0,17.0,15.5,10.0]
t2m_m13 = [2.6,8.9,8.7,3.6, 1.6,8.9,6.9,4.9, 2.9,6.9,5.9,0.4, -1.5,6.2,6.8,6.6, 6.8,8.8,8.4,7.8, 7.6,9.6,8.6,6.5,
           4.8,10.0,9.0,4.5, 2.8,10.5,8.5,3.5, 2.0,9.5,8.0,3.5, 2.0,10.0,8.5,4.0, 2.5,10.0,9.0,4.5, 3.0,10.5,9.5,5.0,
           3.0,11.0,10.0,5.0, 3.0,10.5,9.5,4.5, 2.5,11.0,10.0,5.0]
t2m_m14 = [2.8,9.3,9.1,4.3, 2.1,9.3,7.3,5.3, 3.3,7.3,6.3,0.9, -0.6,7.3,7.8,7.6, 7.6,9.4,8.9,8.6, 8.6,10.6,9.8,7.8,
           6.5,12.5,11.0,6.5, 5.0,14.0,11.5,6.0, 5.5,14.5,12.0,7.5, 6.0,14.5,12.5,7.5, 6.5,14.5,13.0,8.0, 6.5,18.0,15.5,9.0,
           7.0,18.0,15.5,9.5, 7.5,17.0,14.5,9.0, 7.0,18.0,16.0,9.5]
t2m_m15 = [2.5,8.7,8.5,3.2, 1.1,8.6,6.6,4.6, 2.6,6.6,5.6,0.1, -2.2,5.2,6.3,6.2, 5.8,8.6,8.0,7.6, 7.4,9.2,8.2,6.2,
           4.2,9.0,8.0,3.8, 1.8,9.5,7.5,2.5, 0.5,8.5,7.0,2.5, 0.5,8.5,7.5,3.0, 1.0,9.0,8.0,3.5, 1.5,8.5,7.5,3.0,
           1.0,9.0,8.0,3.5, 1.5,8.5,7.5,2.5, 0.5,9.5,8.5,3.0]
t2m_members = [t2m_m1, t2m_m2, t2m_m3, t2m_m4, t2m_m5, t2m_m6, t2m_m7, t2m_m8,
               t2m_m9, t2m_m10, t2m_m11, t2m_m12, t2m_m13, t2m_m14, t2m_m15]
t2m_zero = [0]

# ---------------- Sneeuwval / 6 uur (cm) ----------------
snow_control = [0,0,0,0, 0,0,0,0, 0,0,0,0, 0.1,0,0,0, 0,0,0,0, 0,0,0,0, 0,0,0,0, 0,0,0,0,
                0,0,0,0, 0,0,0,0, 0,0,0,0, 0,0,0,0, 0,0,0,0, 0,0,0,0, 0,0,0,0]
snow_oper = [0,0,0,0, 0,0,0,0, 0,0,0,0, 0.08,0,0,0, 0,0,0,0, 0,0,0,0, 0,0,0,0, 0,0,0,0, 0,0,0,0, 0,0,0,0]
snow_mean = [0,0,0,0, 0,0,0,0, 0,0,0,0, 0.05,0,0,0, 0,0,0,0, 0,0,0,0, 0,0,0,0, 0,0,0,0,
             0,0,0,0, 0,0,0,0, 0,0,0,0, 0,0,0,0, 0,0,0,0, 0,0,0,0, 0,0,0,0]
snow_m1 = [0,0,0,0, 0,0,0,0, 0,0,0,0.1, 0.75,0.05,0,0, 0,0,0,0, 0,0,0,0, 0,0,0,0, 0,0,0,0,
           0,0,0,0, 0,0,0,0, 0,0,0,0, 0,0,0,0, 0,0,0,0, 0,0,0,0, 0,0,0,0]
snow_m2 = [0,0,0,0, 0,0,0,0, 0,0,0,0.05, 0.6,0,0,0, 0,0,0,0, 0,0,0,0, 0,0,0,0, 0,0,0,0,
           0,0,0,0, 0,0,0,0, 0,0,0,0, 0,0,0,0, 0,0,0,0, 0,0,0,0, 0,0,0,0]
snow_m3 = [0,0,0,0, 0,0,0,0, 0,0,0,0, 0.5,0.1,0,0, 0,0,0,0, 0,0,0,0, 0,0,0,0, 0,0,0,0,
           0,0,0,0, 0,0,0,0, 0,0,0,0, 0,0,0,0, 0,0,0,0, 0,0,0,0, 0,0,0,0]
snow_m4 = [0,0,0,0, 0,0,0,0, 0,0,0,0, 0.4,0,0,0, 0,0,0,0, 0,0,0,0, 0,0,0,0, 0,0,0,0,
           0,0,0,0, 0,0,0,0, 0,0,0,0, 0,0,0,0, 0,0,0,0, 0,0,0,0, 0,0,0,0]
snow_m5 = [0,0,0,0, 0,0,0,0, 0,0,0,0, 0.15,0,0,0, 0,0,0,0, 0,0,0,0, 0,0.28,0,0, 0,0,0,0,
           0,0,0,0, 0,0,0,0, 0,0,0,0, 0,0,0,0, 0,0,0,0, 0,0,0,0, 0,0,0,0]
snow_m6 = [0,0,0,0, 0,0,0,0, 0,0,0,0, 0,0,0,0, 0,0,0,0, 0,0,0,0, 0,0,0,0, 0,0,0,0,
           0,0,0,0, 0,0,0,0, 0.07,0,0,0, 0,0,0,0, 0,0.07,0,0, 0,0,0,0, 0,0,0,0]
snow_members = [snow_m1, snow_m2, snow_m3, snow_m4, snow_m5, snow_m6]

# ---------------- panel definitions ----------------
panels = [
    dict(col=0, row=0, members=precip_members, ctrl=precip_control, oper=precip_oper, mean=precip_mean,
         yrange=[0, 20], dtick=5, ylabel="mm", label="Neerslag/6 uur",
         hlines=[(v, "black", 1, "dot") for v in precip_levels]),
    dict(col=1, row=0, members=accum_members, ctrl=accum_control, oper=accum_oper, mean=accum_mean,
         yrange=[0, 70], dtick=10, ylabel="mm", label="Accum Neerslag", hlines=[]),
    dict(col=0, row=1, members=wind_members, ctrl=wind_control, oper=wind_oper, mean=wind_mean,
         yrange=[0, 20], dtick=5, ylabel="m/s", label="10m wind",
         hlines=[(v, "black", 1, "dot") for v in wind_levels]),
    dict(col=1, row=1, members=gust_members, ctrl=gust_control, oper=gust_oper, mean=gust_mean,
         yrange=[0, 30], dtick=5, ylabel="m/s", label="Windstoten",
         hlines=[(v, "black", 1, "dot") for v in gust_levels] + [(v, "#ff00ff", 1.5, "dash") for v in gust_alarm]),
    dict(col=0, row=2, members=t2m_members, ctrl=t2m_control, oper=t2m_oper, mean=t2m_mean,
         yrange=[-5, 25], dtick=5, ylabel="Celsius", label="T2m",
         hlines=[(v, "black", 3, "solid") for v in t2m_zero]),
    dict(col=1, row=2, members=snow_members, ctrl=snow_control, oper=snow_oper, mean=snow_mean,
         yrange=[0, 5], dtick=1, ylabel="cm", label="Sneeuwval/6 uur", hlines=[]),
]

for pn in panels:
    for arr in pn["members"] + [pn["ctrl"], pn["mean"]]:
        if len(arr) != len(hours):
            raise ValueError(f"length {len(arr)} in panel {pn['label']}")
    if len(pn["oper"]) != 40:
        raise ValueError(f"oper length {len(pn['oper'])} in panel {pn['label']}")

# ---------------- styling / geometry ----------------
W, H = 778, 554
FONT = "Liberation Sans, Arial, Helvetica, sans-serif"
GREEN = "rgba(118,184,62,0.88)"
BLUE = "#2222ff"
RED = "#ff0000"
BROWN = "#7a1a1a"
BORDER = "#4444f2"

cols_px = [(32, 358), (421, 746)]
rows_px = [(18, 156), (202, 340), (386, 525)]
box_x = [(0.5, 389), (389, 777.5)]
box_y = [(0.5, 184), (184, 368), (368, 553.5)]


def fx(x):
    return x / W


def fy(y):
    return 1 - y / H


TITLE = ("<b>D</b>onderdag&nbsp;&nbsp;5 April&nbsp;&nbsp;&nbsp;&nbsp;&nbsp;2012&nbsp;&nbsp;"
         "(starttijd&nbsp;&nbsp;<b>Do</b> 00 <b>UTC</b>)")

fig = go.Figure()
layout = {}
shapes = []
annotations = []

for p, pn in enumerate(panels):
    n = p + 1
    xid = "x" if n == 1 else f"x{n}"
    yid = "y" if n == 1 else f"y{n}"
    xk = "xaxis" if n == 1 else f"xaxis{n}"
    yk = "yaxis" if n == 1 else f"yaxis{n}"
    m = n + 6
    xid2, yid2, xk2, yk2 = f"x{m}", f"y{m}", f"xaxis{m}", f"yaxis{m}"
    L, R = cols_px[pn["col"]]
    T, B = rows_px[pn["row"]]
    bx0, bx1 = box_x[pn["col"]]
    by0, by1 = box_y[pn["row"]]

    for mem in pn["members"]:
        fig.add_trace(go.Scatter(x=hours, y=mem, xaxis=xid, yaxis=yid, mode="lines",
                                 line=dict(color=GREEN, width=1.2), showlegend=False, hoverinfo="skip"))
    fig.add_trace(go.Scatter(x=hours, y=pn["ctrl"], xaxis=xid, yaxis=yid, mode="lines",
                             line=dict(color=BLUE, width=1.6, dash="6px,3px"), showlegend=False, hoverinfo="skip"))
    fig.add_trace(go.Scatter(x=hours[:len(pn["oper"])], y=pn["oper"], xaxis=xid, yaxis=yid, mode="lines",
                             line=dict(color=RED, width=1.6), showlegend=False, hoverinfo="skip"))
    fig.add_trace(go.Scatter(x=hours, y=pn["mean"], xaxis=xid, yaxis=yid, mode="lines",
                             line=dict(color=BROWN, width=3, dash="dot"), showlegend=False, hoverinfo="skip"))
    # invisible trace to activate the overlay axes (right y axis, day-name x axis)
    fig.add_trace(go.Scatter(x=[day_hours[0], day_hours[-1]], y=pn["yrange"], xaxis=xid2, yaxis=yid2,
                             mode="markers", marker=dict(opacity=0, size=1), showlegend=False, hoverinfo="skip"))

    layout[xk] = dict(domain=[fx(L), fx(R)], anchor=yid, range=[day_hours[0], day_hours[-1]],
                      tickmode="array", tickvals=day_hours, ticktext=day_ticktext,
                      tickfont=dict(size=6, family=FONT, color="black"), ticks="outside", ticklen=2,
                      tickcolor="black", showline=True, linecolor="black", linewidth=1,
                      showgrid=False, zeroline=False, fixedrange=True,
                      minor=dict(tickmode="linear", tick0=0, dtick=6, ticks="outside", ticklen=5,
                                 tickcolor="#b8b8b8", tickwidth=1, showgrid=False))
    layout[xk2] = dict(overlaying=xid, anchor=yid, side="bottom", range=[day_hours[0], day_hours[-1]],
                       tickmode="array", tickvals=day_mid, ticktext=day_names,
                       tickfont=dict(size=9.5, family=FONT, color="black"), ticks="",
                       showline=False, showgrid=False, zeroline=False, fixedrange=True)
    yaxis_common = dict(range=pn["yrange"], tickmode="linear", tick0=pn["yrange"][0], dtick=pn["dtick"],
                        ticks="outside", ticklen=4, tickcolor="black",
                        tickfont=dict(size=9.5, family=FONT, color="black"),
                        showgrid=False, zeroline=False, fixedrange=True)
    layout[yk] = dict(domain=[fy(B), fy(T)], anchor=xid, showline=True, linecolor="black", linewidth=1,
                      **yaxis_common)
    layout[yk2] = dict(overlaying=yid, anchor=xid, side="right", showline=True, linecolor="#8a8a8a",
                       linewidth=2, **yaxis_common)

    # threshold lines
    for (v, col, wdt, dsh) in pn["hlines"]:
        shapes.append(dict(type="line", xref=f"{xid} domain", yref=yid, x0=0.01, x1=1, y0=v, y1=v,
                           line=dict(color=col, width=wdt, dash=dsh), layer="above" if wdt > 2 else "below"))

    # panel border
    shapes.append(dict(type="rect", xref="paper", yref="paper", x0=fx(bx0), x1=fx(bx1), y0=fy(by1), y1=fy(by0),
                       line=dict(color=BORDER, width=1)))

    # legend (line samples + labels)
    leg = [("Control", BLUE, 2, "6px,3px", T + 6.5), ("Oper", RED, 1.5, "solid", T + 13),
           ("Ens mn", BROWN, 3, "dot", T + 20.5)]
    for (txt, col, wdt, dsh, yy) in leg:
        shapes.append(dict(type="line", xref="paper", yref="paper", x0=fx(L + 3), x1=fx(L + 25),
                           y0=fy(yy), y1=fy(yy), line=dict(color=col, width=wdt, dash=dsh)))
        annotations.append(dict(xref="paper", yref="paper", x=fx(L + 47.5), y=fy(yy + 0.5), text=f"<b>{txt}</b>",
                                showarrow=False, xanchor="center", yanchor="middle", borderpad=0,
                                font=dict(size=7, family=FONT, color="black")))

    # title
    annotations.append(dict(xref="paper", yref="paper", x=fx((L + R) / 2), y=fy(T - 10), text=TITLE,
                            showarrow=False, xanchor="center", yanchor="middle",
                            font=dict(size=11.3, family=FONT, color="black")))
    # station / parameter (two lines, right aligned)
    annotations.append(dict(xref="paper", yref="paper", x=fx(R - 5), y=fy(T + 12.5),
                            text=f"De Bilt<br>{pn['label']}", align="right",
                            showarrow=False, xanchor="right", yanchor="middle", borderpad=0,
                            font=dict(size=10, family=FONT, color="black")))
    # axis titles
    annotations.append(dict(xref="paper", yref="paper", x=fx(bx0 + 12), y=fy((T + B) / 2),
                            text=f"<b>{pn['ylabel']}</b>", textangle=-90, showarrow=False,
                            xanchor="center", yanchor="middle", font=dict(size=11, family=FONT, color="black")))
    annotations.append(dict(xref="paper", yref="paper", x=fx((L + R) / 2 - 3), y=fy(B + 19), text="<b>Dag</b>",
                            showarrow=False, xanchor="center", yanchor="middle", borderpad=0,
                            font=dict(size=12.5, family=FONT, color="black")))
    annotations.append(dict(xref="paper", yref="paper", x=fx(L + 309), y=fy(B + 19.5), text="<b>Bron: ECMWF/KNMI</b>",
                            showarrow=False, xanchor="center", yanchor="middle", borderpad=0,
                            font=dict(size=7.5, family=FONT, color="#0000ff")))

fig.update_layout(
    width=W, height=H, autosize=False,
    margin=dict(l=0, r=0, t=0, b=0, pad=0),
    paper_bgcolor="white", plot_bgcolor="rgba(0,0,0,0)",
    font=dict(family=FONT, color="black"),
    showlegend=False,
    shapes=shapes, annotations=annotations,
    **layout,
)

fig.write_html("out.html", include_plotlyjs=True,
               config={"displayModeBar": False, "staticPlot": True},
               post_script="document.body.style.margin='0px';document.body.style.padding='0px';"
                           "document.body.style.overflow='hidden';")
